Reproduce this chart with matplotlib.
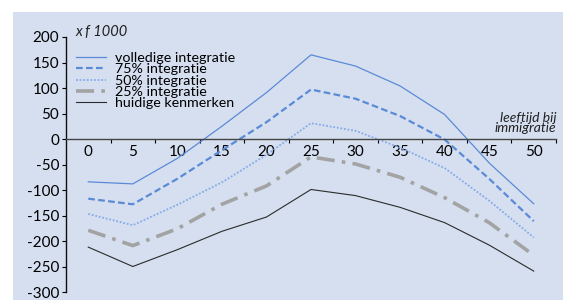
import matplotlib
matplotlib.use("Agg")
import matplotlib.pyplot as plt
from matplotlib.patches import Rectangle

plt.rcParams['axes.unicode_minus'] = False
plt.rcParams['font.family'] = ['Lato', 'DejaVu Sans']

ages = [0, 5, 10, 15, 20, 25, 30, 35, 40, 45, 50]
volledig = [-84, -88, -38, 25, 91, 165, 143, 104, 48, -47, -127]
int75 = [-117, -128, -78, -22, 33, 97, 79, 45, -1, -78, -161]
int50 = [-147, -169, -129, -85, -31, 31, 16, -17, -57, -121, -193]
int25 = [-179, -209, -176, -128, -92, -35, -49, -75, -115, -164, -228]
huidig = [-212, -250, -217, -181, -153, -99, -111, -134, -164, -208, -259]
labels = ['volledige integratie', '75% integratie', '50% integratie',
          '25% integratie', 'huidige kenmerken']
yticks = [200, 150, 100, 50, 0, -50, -100, -150, -200, -250, -300]

bg = '#d5dff0'
fig = plt.figure(figsize=(5.63, 3.0), dpi=100, facecolor='white')
fig.patches.append(Rectangle((13/563, 0), 1, 288/300, transform=fig.transFigure,
                             facecolor=bg, edgecolor='none', zorder=-10))
ax = fig.add_axes([66/563, 1-292/300, (556-66)/563, (292-37)/300])
ax.set_facecolor('none')

ax.plot(ages, volledig, color='#5b8ad6', lw=0.9, ls='-', label=labels[0])
ax.plot(ages, int75, color='#5b8ad6', lw=1.6, ls=(0, (3, 1.5)), label=labels[1])
ax.plot(ages, int50, color='#86aaea', lw=1.3, ls=(0, (1, 1)), label=labels[2])
ax.plot(ages, int25, color='#a3a3a3', lw=2.6, ls=(0, (5, 2, 1, 2)), label=labels[3])
ax.plot(ages, huidig, color='#2b2b2b', lw=0.8, ls='-', label=labels[4])

ax.set_xlim(-2.5, 52.5)
ax.set_ylim(-300, 200)
ax.spines['top'].set_visible(False)
ax.spines['right'].set_visible(False)
ax.spines['bottom'].set_position(('data', 0))
ax.spines['bottom'].set_color('#444444')
ax.spines['left'].set_color('#111111')
ax.spines['bottom'].set_linewidth(1.0)
ax.spines['left'].set_linewidth(1.0)

ax.set_yticks(yticks)
ax.set_yticklabels([str(v) for v in yticks], fontsize=11)
ax.tick_params(axis='y', length=3, width=0.8, pad=2)

bounds = [a + 2.5 for a in ages]
ax.set_xticks(bounds)
ax.set_xticklabels([])
ax.set_xticks(ages, minor=True)
ax.set_xticklabels([str(a) for a in ages], minor=True, fontsize=11)
ax.tick_params(axis='x', which='major', length=3, width=0.8, direction='out')
ax.tick_params(axis='x', which='minor', length=0, pad=4)

ax.text(75/563, 1-32/300, 'x f 1000', transform=fig.transFigure, style='italic',
        fontsize=10.5, ha='left', va='center', color='#222222')
ax.text(556/563, 1-123/300, 'leeftijd bij\nimmigratie', transform=fig.transFigure,
        style='italic', fontsize=10, ha='right', va='center', color='#222222',
        linespacing=0.85)

leg = ax.legend(loc='upper left', bbox_to_anchor=(76/563, 1-52/300),
                bbox_transform=fig.transFigure, frameon=False, fontsize=10.3,
                handlelength=2.1, handletextpad=0.6, labelspacing=-0.05,
                borderaxespad=0, borderpad=0)

fig.savefig('out.png', dpi=100, facecolor='white')
